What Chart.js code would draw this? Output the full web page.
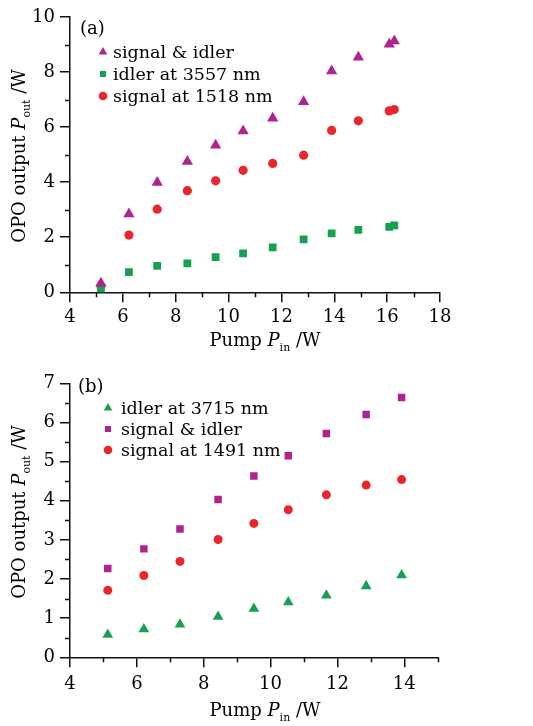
<!DOCTYPE html>
<html>
<head>
<meta charset="utf-8">
<script src="https://cdn.jsdelivr.net/npm/chart.js@4/dist/chart.umd.min.js"></script>
<style>
  html, body { margin: 0; padding: 0; background: #fff; }
  #wrap { position: relative; width: 533px; height: 726px; background: #fff; }
  canvas { position: absolute; left: 0; }
</style>
</head>
<body>
<div id="wrap">
  <canvas id="chartA" width="533" height="360" style="top:0"></canvas>
  <canvas id="chartB" width="533" height="366" style="top:360px"></canvas>
</div>
<script>
// (a) pump power and outputs, W
const pumpA = [5.17, 6.23, 7.30, 8.44, 9.51, 10.55, 11.67, 12.84, 13.90, 14.91, 16.08, 16.27];
const totalA = [0.33, 2.84, 3.99, 4.75, 5.34, 5.86, 6.32, 6.92, 8.04, 8.54, 9.01, 9.13];
const idlerA = [0.12, 0.73, 0.96, 1.05, 1.28, 1.41, 1.63, 1.92, 2.14, 2.27, 2.38, 2.43];
const signalA = [0.23, 2.08, 3.02, 3.69, 4.05, 4.43, 4.68, 4.98, 5.88, 6.23, 6.59, 6.64];
const labelsA = ['signal & idler', 'idler at 3557 nm', 'signal at 1518 nm'];

// (b)
const pumpB = [5.13, 6.21, 7.29, 8.43, 9.50, 10.53, 11.67, 12.86, 13.92];
const idlerB = [0.58, 0.72, 0.84, 1.04, 1.24, 1.41, 1.58, 1.82, 2.10];
const totalB = [2.27, 2.77, 3.28, 4.03, 4.63, 5.15, 5.72, 6.20, 6.64];
const signalB = [1.71, 2.09, 2.45, 3.01, 3.42, 3.77, 4.15, 4.40, 4.54];
const labelsB = ['idler at 3715 nm', 'signal & idler', 'signal at 1491 nm'];

const PURPLE = '#b0238f';
const GREEN = '#17a052';
const RED = '#e8262b';
const AXIS = '#111';
const FONT = 'DejaVu Serif';

function pts(xs, ys) {
  return xs.map((x, i) => ({ x: x, y: ys[i] }));
}

function ds(label, xs, ys, color, style, r) {
  return {
    label: label,
    data: pts(xs, ys),
    pointStyle: style,
    pointRadius: r,
    backgroundColor: color,
    borderColor: color,
    borderWidth: 0,
    showLine: false
  };
}

function marker(ctx, style, x, y, r, color) {
  ctx.fillStyle = color;
  ctx.beginPath();
  if (style === 'triangle') {
    r *= 1.15;
    ctx.moveTo(x, y - r);
    ctx.lineTo(x + r * 0.866, y + r * 0.5);
    ctx.lineTo(x - r * 0.866, y + r * 0.5);
    ctx.closePath();
  } else if (style === 'rect') {
    ctx.rect(x - r * 0.7, y - r * 0.7, r * 1.4, r * 1.4);
  } else {
    ctx.arc(x, y, r, 0, Math.PI * 2);
  }
  ctx.fill();
}

function drawParts(ctx, parts, x, y, rotate) {
  ctx.save();
  ctx.translate(x, y);
  if (rotate) ctx.rotate(-Math.PI / 2);
  let w = 0;
  parts.forEach(p => { ctx.font = p.font; p.w = ctx.measureText(p.text).width; w += p.w; });
  let cx = -w / 2;
  ctx.textAlign = 'left';
  ctx.textBaseline = 'alphabetic';
  ctx.fillStyle = '#000';
  parts.forEach(p => { ctx.font = p.font; ctx.fillText(p.text, cx, p.dy || 0); cx += p.w; });
  ctx.restore();
}

function decor(o) {
  return {
    id: 'decor',
    afterDraw(chart) {
      const ctx = chart.ctx;
      const xs = chart.scales.x, ys = chart.scales.y;
      const area = chart.chartArea;
      ctx.save();
      ctx.strokeStyle = AXIS;
      ctx.lineWidth = 1.5;
      // minor ticks
      for (let v = xs.min; v <= xs.max + 1e-9; v += o.xMinor) {
        const k = (v - xs.min) / o.xMajor;
        if (Math.abs(k - Math.round(k)) < 1e-6) continue;
        const px = Math.round(xs.getPixelForValue(v)) + 0.5;
        ctx.beginPath(); ctx.moveTo(px, area.bottom); ctx.lineTo(px, area.bottom + 5); ctx.stroke();
      }
      for (let v = ys.min; v <= ys.max + 1e-9; v += o.yMinor) {
        const k = (v - ys.min) / o.yMajor;
        if (Math.abs(k - Math.round(k)) < 1e-6) continue;
        const py = Math.round(ys.getPixelForValue(v)) + 0.5;
        ctx.beginPath(); ctx.moveTo(area.left, py); ctx.lineTo(area.left - 5, py); ctx.stroke();
      }
      // panel label
      ctx.fillStyle = '#000';
      ctx.font = '18px "' + FONT + '"';
      ctx.textAlign = 'left';
      ctx.textBaseline = 'middle';
      ctx.fillText(o.panel, o.panelX, o.panelY);
      // legend
      chart.data.datasets.forEach((d, i) => {
        const y = o.legY + i * o.legGap;
        marker(ctx, d.pointStyle, o.legMarkX, y, 4.3, d.backgroundColor);
        ctx.fillStyle = '#000';
        ctx.font = '17.5px "' + FONT + '"';
        ctx.textBaseline = 'middle';
        ctx.fillText(d.label, o.legTextX, y + 1);
      });
      ctx.restore();
      // axis titles
      const big = '18px "' + FONT + '"';
      const ital = 'italic 18px "' + FONT + '"';
      const sub = '11px "' + FONT + '"';
      drawParts(ctx, [
        { text: 'Pump ', font: big },
        { text: 'P', font: ital },
        { text: 'in', font: sub, dy: 5 },
        { text: ' /W', font: big }
      ], 265, o.xTitleY, false);
      drawParts(ctx, [
        { text: 'OPO output ', font: big },
        { text: 'P', font: ital },
        { text: 'out', font: sub, dy: 5 },
        { text: ' /W', font: big }
      ], o.yTitleX, o.yTitleY, true);
    }
  };
}

function axes(xMax, yMax, yStep, xH, xPad) {
  const tickFont = { family: FONT, size: 18 };
  return {
    x: {
      type: 'linear', min: 4, max: xMax,
      ticks: { stepSize: 2, includeBounds: false, color: '#000', font: tickFont, padding: xPad, maxRotation: 0 },
      grid: { drawOnChartArea: false, tickLength: 10, color: AXIS, lineWidth: 1.5 },
      border: { color: AXIS, width: 1.5 },
      afterFit(s) { s.height = xH; }
    },
    y: {
      type: 'linear', min: 0, max: yMax,
      ticks: { stepSize: yStep, includeBounds: false, color: '#000', font: tickFont, padding: 5 },
      grid: { drawOnChartArea: false, tickLength: 10, color: AXIS, lineWidth: 1.5 },
      border: { color: AXIS, width: 1.5 },
      afterFit(s) { s.width = 70; }
    }
  };
}

const base = {
  responsive: false,
  animation: false,
  events: [],
  plugins: { legend: { display: false }, tooltip: { enabled: false } }
};

new Chart(document.getElementById('chartA'), {
  type: 'scatter',
  data: {
    datasets: [
      ds(labelsA[0], pumpA, totalA, PURPLE, 'triangle', 6.5),
      ds(labelsA[1], pumpA, idlerA, GREEN, 'rect', 5.5),
      ds(labelsA[2], pumpA, signalA, RED, 'circle', 4.6)
    ]
  },
  options: Object.assign({}, base, {
    layout: { padding: { top: 17, right: 93, bottom: 0, left: 0 } },
    scales: axes(18, 10, 2, 67.7, 4)
  }),
  plugins: [decor({
    xMajor: 2, xMinor: 1, yMajor: 2, yMinor: 1,
    panel: '(a)', panelX: 80, panelY: 29,
    legMarkX: 103, legTextX: 113, legY: 52, legGap: 22,
    xTitleY: 346, yTitleX: 25, yTitleY: 156
  })]
});

new Chart(document.getElementById('chartB'), {
  type: 'scatter',
  data: {
    datasets: [
      ds(labelsB[0], pumpB, idlerB, GREEN, 'triangle', 6.2),
      ds(labelsB[1], pumpB, totalB, PURPLE, 'rect', 5.3),
      ds(labelsB[2], pumpB, signalB, RED, 'circle', 4.5)
    ]
  },
  options: Object.assign({}, base, {
    layout: { padding: { top: 23.3, right: 95.3, bottom: 0, left: 0 } },
    scales: axes(15, 7, 1, 68.7, 6)
  }),
  plugins: [decor({
    xMajor: 2, xMinor: 1, yMajor: 1, yMinor: 0.5,
    panel: '(b)', panelX: 78, panelY: 27,
    legMarkX: 108, legTextX: 121, legY: 48, legGap: 21,
    xTitleY: 356, yTitleX: 25, yTitleY: 152
  })]
});
</script>
</body>
</html>
